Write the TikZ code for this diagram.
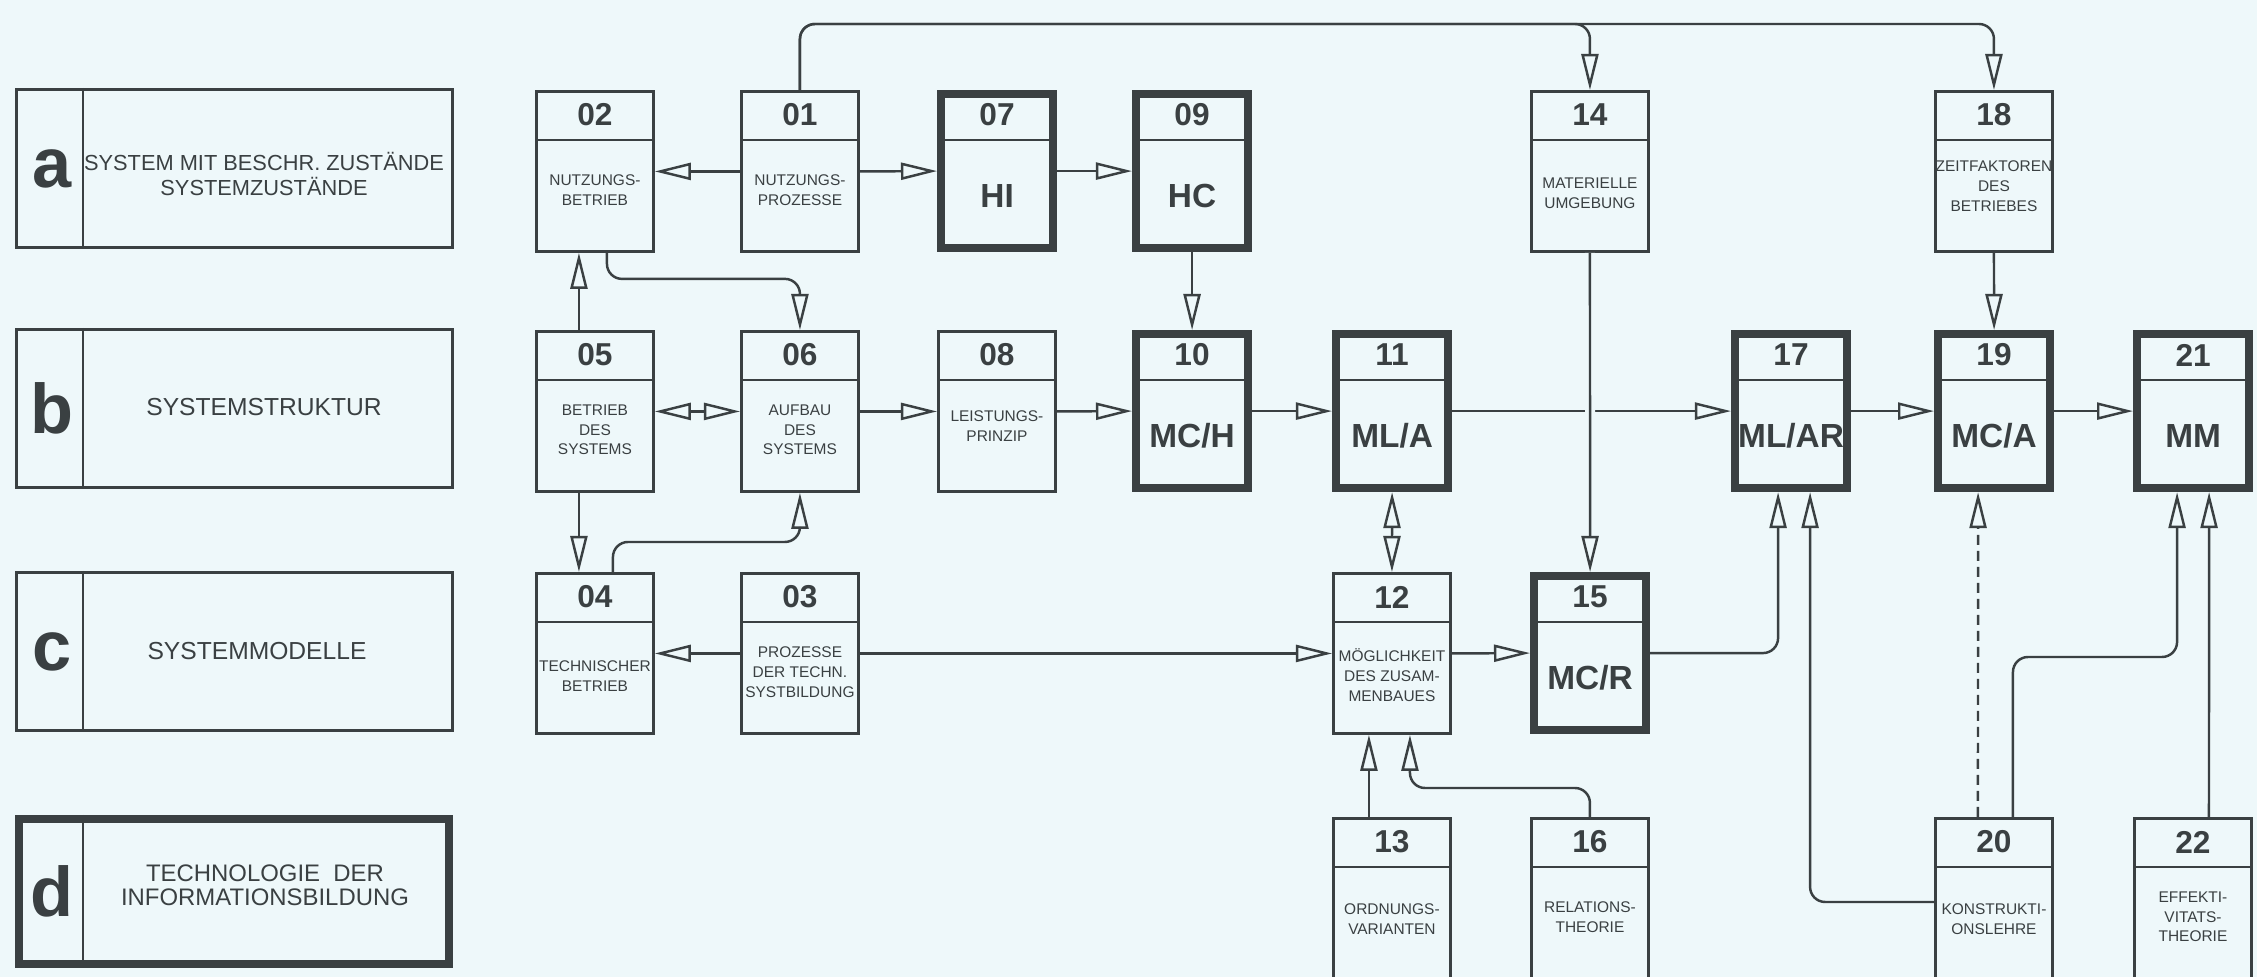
\documentclass[tikz,border=0pt]{standalone}
\usepackage{fontspec}
\setmainfont{Liberation Sans}
\usetikzlibrary{arrows.meta,calc}
\definecolor{bg}{RGB}{238,248,250}
\definecolor{ink}{RGB}{58,64,66}
\tikzset{
  >={Triangle[open,length=0.36cm,width=0.17cm]},
  thinbox/.style={draw=ink, line width=0.8pt, minimum width=1.17cm, minimum height=1.6cm, inner sep=0pt, anchor=north west},
  thickbox/.style={draw=ink, line width=2.3pt, minimum width=1.12cm, minimum height=1.54cm, inner sep=0pt, anchor=north west},
  tallbox/.style={thinbox, minimum height=1.8cm},
  legbox/.style={draw=ink, line width=0.8pt, minimum width=4.36cm, minimum height=1.58cm, inner sep=0pt, anchor=north west},
  legthick/.style={draw=ink, line width=2.3pt, minimum width=4.3cm, minimum height=1.45cm, inner sep=0pt, anchor=north west},
  divline/.style={draw=ink, line width=0.7pt},
  numtxt/.style={font=\fontsize{9}{10}\selectfont\bfseries, text=ink, inner sep=0pt},
  bigtxt/.style={font=\fontsize{9.5}{11}\selectfont\bfseries, text=ink, inner sep=0pt},
  smalltxt/.style={font=\fontsize{4.4}{5.6}\selectfont, text=ink, align=center, inner sep=0pt},
  legletter/.style={font=\fontsize{20}{22}\selectfont\bfseries, text=ink, inner sep=0pt},
  legtxt/.style={font=\fontsize{7}{8}\selectfont, text=ink, align=center, inner sep=0pt},
  conn/.style={draw=ink, line width=0.7pt, ->, rounded corners=0.15cm},
  dconn/.style={draw=ink, line width=0.7pt, <->},
}
\newcommand\mkbox[5]{%
  \node[#2] (#1) at (#3,#4) {};
  \draw[divline] ($(#1.north west)+(0,50)$) -- ($(#1.north east)+(0,50)$);
  \node[numtxt] (#1num) at ($(#1.north)+(0,25)$) {#5};
}
\begin{document}
\begin{tikzpicture}[x=0.01cm,y=-0.01cm]
\useasboundingbox (0,0) rectangle (2257,977);
\clip (0,0) rectangle (2257,977);
\fill[bg] (0,0) rectangle (2257,977);

% legend
\node[legbox] (la) at (15,88) {};
\draw[divline] ($(la.north west)+(68,0)$) -- ($(la.south west)+(68,0)$);
\node[legletter] (lal) at ($(la.west)+(37,0)$) {a};
\node[legtxt, font=\fontsize{6.2}{6.9}\selectfont] (lat) at (264,174) {SYSTEM MIT BESCHR. ZUSTÄNDE\\SYSTEMZUSTÄNDE};

\node[legbox] (lb) at (15,328) {};
\draw[divline] ($(lb.north west)+(68,0)$) -- ($(lb.south west)+(68,0)$);
\node[legletter] (lbl) at ($(lb.west)+(37,0)$) {b};
\node[legtxt] (lbt) at (264,407) {SYSTEMSTRUKTUR};

\node[legbox] (lc) at (15,571) {};
\draw[divline] ($(lc.north west)+(68,0)$) -- ($(lc.south west)+(68,0)$);
\node[legletter] (lcl) at ($(lc.west)+(37,0)$) {c};
\node[legtxt] (lct) at (257,651) {SYSTEMMODELLE};

\node[legthick] (ld) at (15,815) {};
\draw[divline] ($(ld.north west)+(68,0)$) -- ($(ld.south west)+(68,0)$);
\node[legletter] (ldl) at ($(ld.west)+(37,0)$) {d};
\node[legtxt, font=\fontsize{6.8}{6.9}\selectfont] (ldt) at (265,885) {TECHNOLOGIE \ DER\\INFORMATIONSBILDUNG};

% boxes
\mkbox{n02}{thinbox}{535}{90}{02}
\mkbox{n01}{thinbox}{740}{90}{01}
\mkbox{n07}{thickbox}{937}{90}{07}
\mkbox{n09}{thickbox}{1132}{90}{09}
\mkbox{n14}{thinbox}{1530}{90}{14}
\mkbox{n18}{thinbox}{1934}{90}{18}
\mkbox{n05}{thinbox}{535}{330}{05}
\mkbox{n06}{thinbox}{740}{330}{06}
\mkbox{n08}{thinbox}{937}{330}{08}
\mkbox{n10}{thickbox}{1132}{330}{10}
\mkbox{n11}{thickbox}{1332}{330}{11}
\mkbox{n17}{thickbox}{1731}{330}{17}
\mkbox{n19}{thickbox}{1934}{330}{19}
\mkbox{n21}{thickbox}{2133}{330}{21}
\mkbox{n04}{thinbox}{535}{572}{04}
\mkbox{n03}{thinbox}{740}{572}{03}
\mkbox{n12}{thinbox}{1332}{572}{12}
\mkbox{n15}{thickbox}{1530}{572}{15}
\mkbox{n13}{tallbox}{1332}{817}{13}
\mkbox{n16}{tallbox}{1530}{817}{16}
\mkbox{n20}{tallbox}{1934}{817}{20}
\mkbox{n22}{tallbox}{2133}{817}{22}

% texts
\node[smalltxt] (n02t) at ($(n02.north)+(0,100)$) {NUTZUNGS-\\BETRIEB};
\node[smalltxt] (n01t) at ($(n01.north)+(0,100)$) {NUTZUNGS-\\PROZESSE};
\node[bigtxt] (n07t) at ($(n07.north)+(0,106)$) {HI};
\node[bigtxt] (n09t) at ($(n09.north)+(0,106)$) {HC};
\node[smalltxt] (n14t) at ($(n14.north)+(0,103)$) {MATERIELLE\\UMGEBUNG};
\node[smalltxt] (n18t) at ($(n18.north)+(0,96)$) {ZEITFAKTOREN\\DES\\BETRIEBES};
\node[smalltxt] (n05t) at ($(n05.north)+(0,100)$) {BETRIEB\\DES\\SYSTEMS};
\node[smalltxt] (n06t) at ($(n06.north)+(0,100)$) {AUFBAU\\DES\\SYSTEMS};
\node[smalltxt] (n08t) at ($(n08.north)+(0,96)$) {LEISTUNGS-\\PRINZIP};
\node[bigtxt] (n10t) at ($(n10.north)+(0,106)$) {MC/H};
\node[bigtxt] (n11t) at ($(n11.north)+(0,106)$) {ML/A};
\node[bigtxt] (n17t) at ($(n17.north)+(0,106)$) {ML/AR};
\node[bigtxt] (n19t) at ($(n19.north)+(0,106)$) {MC/A};
\node[bigtxt] (n21t) at ($(n21.north)+(0,106)$) {MM};
\node[smalltxt] (n04t) at ($(n04.north)+(0,104)$) {TECHNISCHER\\BETRIEB};
\node[smalltxt] (n03t) at ($(n03.north)+(0,100)$) {PROZESSE\\DER TECHN.\\SYSTBILDUNG};
\node[smalltxt] (n12t) at ($(n12.north)+(0,103)$) {MÖGLICHKEIT\\DES ZUSAM-\\MENBAUES};
\node[bigtxt] (n15t) at ($(n15.north)+(0,106)$) {MC/R};
\node[smalltxt] (n13t) at ($(n13.north)+(0,102)$) {ORDNUNGS-\\VARIANTEN};
\node[smalltxt] (n16t) at ($(n16.north)+(0,100)$) {RELATIONS-\\THEORIE};
\node[smalltxt] (n20t) at ($(n20.north)+(0,102)$) {KONSTRUKTI-\\ONSLEHRE};
\node[smalltxt] (n22t) at ($(n22.north)+(0,100)$) {EFFEKTI-\\VITATS-\\THEORIE};

% connectors
\coordinate (ytop) at (0,24);
\draw[conn] (n01.north) -- (n01.north |- ytop) -- (n14.north |- ytop) -- (n14.north);
\draw[conn] (n01.north) -- (n01.north |- ytop) -- (n18.north |- ytop) -- (n18.north);
\draw[conn] (n01.west) -- (n02.east);
\draw[conn] (n01.east) -- (n07.west);
\draw[conn] (n07.east) -- (n09.west);
\draw[conn] ([xshift=-0.16cm]n05.north) -- ([xshift=-0.16cm]n02.south);
\draw[conn] ([xshift=0.12cm]n02.south) -- ++(0,26) -| (n06.north);
\draw[dconn] (n05.east) -- (n06.west);
\draw[conn] (n06.east) -- (n08.west);
\draw[conn] (n08.east) -- (n10.west);
\draw[conn] (n09.south) -- (n10.north);
\draw[conn] (n10.east) -- (n11.west);
\draw[conn] (n11.east) -- (n17.west);
\draw[conn] (n17.east) -- (n19.west);
\draw[conn] (n19.east) -- (n21.west);
\draw[conn] (n18.south) -- (n19.north);
\draw[conn, preaction={draw=bg, line width=0.1cm, arrows=-}] (n14.south) -- (n15.north);
\draw[conn] ([xshift=-0.16cm]n05.south) -- ([xshift=-0.16cm]n04.north);
\draw[conn] ([xshift=0.18cm]n04.north) -- ++(0,-30) -| (n06.south);
\draw[conn] (n03.west) -- (n04.east);
\draw[conn] (n03.east) -- (n12.west);
\draw[conn] (n12.east) -- (n15.west);
\draw[dconn] (n11.south) -- (n12.north);
\draw[conn] (n15.east) -| ([xshift=-0.13cm]n17.south);
\draw[conn] ([xshift=-0.23cm]n13.north) -- ([xshift=-0.23cm]n12.south);
\draw[conn] (n16.north) -- ++(0,-29) -| ([xshift=0.18cm]n12.south);
\draw[conn] ($(n20.north west)+(0,85)$) -| ([xshift=0.19cm]n17.south);
\draw[conn, dash pattern=on 0.1cm off 0.06cm] ([xshift=-0.16cm]n20.north) -- ([xshift=-0.16cm]n19.south);
\draw[conn] ([xshift=0.19cm]n20.north) -- ++(0,-160) -| ([xshift=-0.16cm]n21.south);
\draw[conn] ([xshift=0.16cm]n22.north) -- ([xshift=0.16cm]n21.south);
\end{tikzpicture}
\end{document}
